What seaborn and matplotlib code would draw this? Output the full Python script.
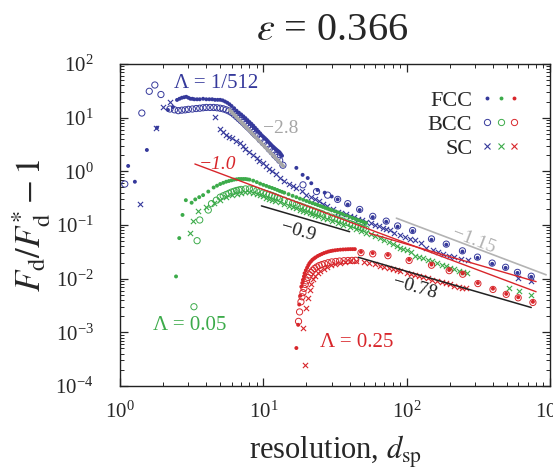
import matplotlib
matplotlib.use("Agg")
import matplotlib.pyplot as plt
import seaborn as sns
from matplotlib.lines import Line2D
from matplotlib.legend_handler import HandlerTuple

# values (resolution d_sp, Fd/Fd* - 1)

# Lambda = 1/512
blue_fcc_d = [1.14, 1.27, 1.54, 1.81, 2.16, 2.34, 2.5, 2.6, 2.7, 2.8, 2.9, 3.0, 3.1, 3.2, 3.3, 3.45, 3.6, 3.8, 4.0,
              4.2, 4.4, 4.6, 4.8, 5.0, 5.2, 5.4, 5.6, 5.8, 6.0, 6.25, 6.5, 6.75, 7.0, 7.25, 7.5, 7.75, 8.0, 8.25,
              8.5, 8.75, 9.0, 9.25, 9.5, 9.75, 10.0, 10.25, 10.5, 10.75, 11.0, 11.25, 11.5, 11.75, 12.0, 12.25,
              12.5, 12.75, 13.0, 13.25, 13.5, 17.0, 18.8, 20.4, 21.6, 23.9, 26.8, 30.0, 33.0, 38.8, 47.0, 58.0,
              72.0, 86.5, 110, 149, 189, 245, 312, 395, 490, 593, 740]
blue_fcc_y = [1.26, 0.64, 2.5, 6.5, 13.9, 15.8, 21.4, 22.5, 23.5, 24.0, 24.5, 23.5, 22.5, 22.5, 22.0, 22.0, 22.0,
              22.5, 22.0, 22.0, 22.0, 21.5, 21.5, 21.5, 21.0, 20.0, 19.0, 17.8, 16.5, 15.0, 13.5, 12.4, 11.5,
              10.6, 9.8, 9.0, 8.3, 7.7, 7.1, 6.5, 6.0, 5.5, 5.1, 4.7, 4.4, 4.15, 3.9, 3.65, 3.4, 3.2, 3.0, 2.85,
              2.7, 2.57, 2.45, 2.35, 2.25, 2.1, 1.95, 1.16, 0.86, 0.75, 0.6, 0.45, 0.40, 0.34, 0.30, 0.24, 0.19,
              0.14, 0.115, 0.093, 0.077, 0.053, 0.043, 0.032, 0.0244, 0.0189, 0.0159, 0.0128, 0.0108]

blue_bcc_d = [1.08, 1.42, 1.6, 1.75, 1.93, 2.23, 2.4, 2.55, 2.7, 2.85, 3.0, 3.2, 3.4, 3.6, 3.8, 4.0, 4.25, 4.5,
              4.75, 5.0, 5.25, 5.5, 5.75, 6.0, 6.25, 6.5, 6.75, 7.0, 7.25, 7.5, 7.75, 8.0, 8.25, 8.5, 8.75, 9.0,
              9.5, 10.0, 10.5, 11.0, 11.5, 12.0, 12.5, 13.0, 13.7, 18.9, 23.5, 28.1, 33.0, 38.8, 47.0, 58.0,
              72.0, 86.5, 110, 149, 189, 245, 312, 395, 490, 593, 740]
blue_bcc_y = [0.58, 12.2, 31.0, 40.6, 27.0, 14.5, 14.0, 13.5, 13.8, 14.0, 14.3, 14.5, 14.8, 15.0, 15.3, 15.5,
              15.5, 15.5, 15.3, 15.0, 14.6, 14.0, 13.3, 12.5, 11.5, 10.5, 9.6, 8.8, 8.1, 7.4, 6.8, 6.3, 5.8,
              5.3, 4.9, 4.6, 3.9, 3.4, 3.0, 2.6, 2.3, 2.0, 1.8, 1.6, 1.3, 0.56, 0.42, 0.36, 0.30, 0.25, 0.195,
              0.145, 0.118, 0.096, 0.079, 0.055, 0.044, 0.033, 0.0252, 0.0195, 0.0163, 0.0131, 0.0111]

blue_sc_d = [1.38, 1.78, 2.0, 2.23, 4.59, 5.0, 5.25, 5.5, 5.75, 6.0, 6.4, 6.86, 7.2, 7.5, 8.0, 8.5, 9.0, 9.4, 10.0,
             10.5, 11.0, 11.5, 12.3, 13.0, 14.0, 15.0, 16.0, 17.0, 18.5, 20.0, 21.5, 23.0, 24.5, 26.0, 28.0,
             30.6, 33.0, 35.0, 37.5, 40.0, 43.0, 46.0, 49.0, 52.4, 56.0, 60.0, 64.0, 68.0, 72.0, 76.0, 82.0,
             90.0, 97.0, 105, 114, 125, 137, 152, 165, 180, 197, 215, 240, 266, 600, 740]
blue_sc_y = [0.247, 6.4, 15.6, 19.3, 10.4, 6.2, 5.4, 4.8, 4.4, 4.1, 3.7, 3.34, 3.0, 2.6, 2.3, 2.0, 1.8, 1.58, 1.4,
             1.25, 1.12, 1.02, 0.88, 0.74, 0.66, 0.59, 0.54, 0.49, 0.43, 0.37, 0.33, 0.30, 0.275, 0.25, 0.225,
             0.195, 0.178, 0.168, 0.157, 0.148, 0.138, 0.13, 0.122, 0.116, 0.108, 0.1, 0.094, 0.088, 0.083,
             0.079, 0.072, 0.066, 0.061, 0.056, 0.052, 0.047, 0.038, 0.034, 0.032, 0.029, 0.027, 0.025, 0.0235,
             0.0224, 0.0105, 0.0089]

# Lambda = 0.05
green_fcc_d = [2.46, 2.59, 2.73, 2.88, 3.16, 3.35, 3.57, 3.8, 4.13, 4.5, 4.75, 5.0, 5.25, 5.5, 5.75, 6.0, 6.25,
               6.5, 6.75, 7.0, 7.25, 7.5, 7.75, 8.0, 8.5, 9.0, 9.5, 10, 10.5, 11, 11.5, 12, 12.5, 13, 13.5, 14, 15,
               16, 17, 18, 19, 20, 21, 22, 23, 24, 25, 26, 27, 28, 29, 30, 31.5, 33, 34.5, 36, 38, 40, 42, 44, 46,
               48, 50, 52]
green_fcc_y = [0.011, 0.057, 0.154, 0.29, 0.26, 0.3, 0.33, 0.36, 0.42, 0.5, 0.54, 0.58, 0.61, 0.64, 0.66, 0.68,
               0.70, 0.71, 0.72, 0.72, 0.72, 0.72, 0.71, 0.70, 0.67, 0.63, 0.59, 0.56, 0.535, 0.51, 0.49, 0.47,
               0.45, 0.43, 0.415, 0.40, 0.375, 0.35, 0.33, 0.31, 0.295, 0.28, 0.267, 0.255, 0.245, 0.235, 0.226,
               0.217, 0.209, 0.202, 0.195, 0.189, 0.18, 0.172, 0.165, 0.158, 0.15, 0.142, 0.135, 0.129, 0.123,
               0.118, 0.113, 0.109]

green_bcc_d = [3.28, 3.45, 3.6, 4.13, 4.35, 4.7, 5.0, 5.25, 5.5, 5.75, 6.0, 6.25, 6.5, 6.75, 7.0, 7.5, 8.0, 8.5,
               9.0, 9.5, 10, 10.5, 11, 11.5, 12, 12.5, 13, 14, 15, 16, 17, 18, 19, 20, 21, 22, 23, 24, 25, 26, 28,
               30, 31.5, 33, 34.5, 36, 38, 40, 42, 44, 46, 48, 50, 52]
green_bcc_y = [0.003, 0.051, 0.124, 0.19, 0.25, 0.29, 0.33, 0.35, 0.37, 0.39, 0.41, 0.425, 0.44, 0.45, 0.46, 0.47,
               0.47, 0.46, 0.44, 0.42, 0.40, 0.385, 0.37, 0.355, 0.34, 0.325, 0.31, 0.29, 0.27, 0.255, 0.24, 0.228,
               0.216, 0.205, 0.196, 0.187, 0.179, 0.172, 0.166, 0.16, 0.149, 0.14, 0.134, 0.128, 0.123, 0.118,
               0.112, 0.107, 0.102, 0.098, 0.094, 0.09, 0.087, 0.084]

green_sc_d = [3.07, 3.24, 3.51, 4.0, 4.5, 5.0, 5.5, 6.0, 6.5, 7.0, 7.5, 8.0, 8.5, 9.0, 9.5, 10, 10.5, 11, 11.5, 12,
              13, 14, 15, 16, 17, 18, 19, 20, 21, 22, 23, 24, 26, 28, 30, 33, 36, 40, 44, 48, 52, 56, 60, 65, 70,
              75, 80, 85, 90, 95, 100, 107, 115, 122, 130, 140, 150, 162, 175, 187, 200, 215, 230, 247, 265,
              520, 612, 740]
green_sc_y = [0.072, 0.118, 0.18, 0.22, 0.26, 0.29, 0.33, 0.36, 0.38, 0.40, 0.41, 0.41, 0.40, 0.38, 0.36, 0.34,
              0.325, 0.31, 0.297, 0.285, 0.265, 0.245, 0.23, 0.215, 0.203, 0.193, 0.184, 0.175, 0.167, 0.16,
              0.153, 0.147, 0.137, 0.128, 0.12, 0.11, 0.101, 0.092, 0.084, 0.078, 0.072, 0.067, 0.062, 0.057,
              0.052, 0.048, 0.045, 0.041, 0.038, 0.036, 0.034, 0.031, 0.027, 0.0255, 0.024, 0.0225, 0.021,
              0.0193, 0.018, 0.017, 0.016, 0.015, 0.014, 0.0132, 0.0125, 0.0067, 0.0058, 0.005]

# Lambda = 0.25
red_fcc_d = [17.0, 17.5, 17.8, 18.1, 18.4, 18.7, 18.9, 19.2, 19.4, 19.8, 20.2, 20.6, 21.0, 21.5, 22.0, 22.6, 23.2,
             24.0, 24.8, 25.6, 26.5, 27.5, 28.5, 29.5, 30.5, 31.7, 33.0, 34.5, 36.0, 37.5, 39.0, 40.5, 42.0,
             43.5, 48.0, 58.0, 74.0, 104, 149, 198, 246, 314, 400, 495, 600, 760]
red_fcc_y = [0.00051, 0.00138, 0.0033, 0.0048, 0.0071, 0.0083, 0.0095, 0.011, 0.0126, 0.0143, 0.016, 0.0178,
             0.0195, 0.021, 0.0225, 0.0238, 0.025, 0.0265, 0.0277, 0.0288, 0.030, 0.031, 0.032, 0.0327, 0.0333,
             0.0338, 0.0343, 0.0347, 0.035, 0.0352, 0.0354, 0.0355, 0.0355, 0.0355, 0.0315, 0.030, 0.0277, 0.0225,
             0.0183, 0.0145, 0.0125, 0.0083, 0.0065, 0.0052, 0.0045, 0.0037]

red_bcc_d = [17.6, 17.9, 18.3, 18.6, 18.9, 19.2, 19.6, 20.0, 20.5, 21.0, 21.5, 22.1, 22.8, 23.6, 24.5, 25.6, 26.8,
             28.3, 30.0, 32.0, 34.0, 36.5, 39.0, 41.5, 44.0, 48.0, 58.0, 74.0, 104, 149, 198, 246, 314, 400, 495,
             600, 760]
red_bcc_y = [0.0016, 0.0024, 0.0037, 0.0046, 0.0055, 0.0066, 0.0078, 0.0091, 0.0105, 0.0118, 0.013, 0.0143,
             0.0155, 0.0165, 0.0175, 0.0183, 0.019, 0.0198, 0.0205, 0.0209, 0.0213, 0.0216, 0.0218, 0.0219, 0.022,
             0.0305, 0.029, 0.0268, 0.0218, 0.0178, 0.0141, 0.0121, 0.0081, 0.0063, 0.0051, 0.0044, 0.0036]

red_sc_d = [18.9, 19.4, 20.0, 20.5, 21.0, 21.6, 22.3, 23.0, 24.0, 25.0, 26.3, 27.8, 29.5, 31.5, 34.0, 37.0, 40.0,
            44.0, 50.0, 55.0, 60.0, 65.0, 70.0, 75.0, 80.0, 85.0, 90.0, 100, 107, 115, 122, 130, 140, 150, 162,
            175, 187, 200, 215, 230, 245, 261]
red_sc_y = [0.0012, 0.00025, 0.0028, 0.0043, 0.0062, 0.0081, 0.0098, 0.0113, 0.0128, 0.0141, 0.0153, 0.0165,
            0.0177, 0.0188, 0.0197, 0.0204, 0.021, 0.0215, 0.0205, 0.0195, 0.0185, 0.0175, 0.0165, 0.0158,
            0.0152, 0.0146, 0.014, 0.013, 0.0124, 0.0118, 0.0112, 0.0107, 0.0101, 0.0096, 0.0091, 0.0086,
            0.0082, 0.0078, 0.0074, 0.0071, 0.0068, 0.0066]

# guide lines (end points)
guide_lines = [
    ([5.8, 13.8], [14.0, 1.25], "#a6a6a6", 2.6),
    ([3.33, 800], [1.37, 0.0057], "#d8262b", 1.0),
    ([55.0, 800], [0.07, 0.0088], "#d8262b", 1.0),
    ([9.7, 40.0], [0.227, 0.075], "#222222", 1.1),
    ([84.8, 940], [0.134, 0.0118], "#b3b3b3", 1.2),
    ([46.0, 740], [0.025, 0.0029], "#222222", 1.1),
]

BLUE = "#35399b"
GREEN = "#3cab4a"
RED = "#d8262b"

sns.set_style("ticks")
plt.rcParams["font.family"] = ["Liberation Serif", "DejaVu Serif"]
plt.rcParams["mathtext.fontset"] = "stix"

fig = plt.figure(figsize=(5.53, 4.69), dpi=100)
ax = fig.add_axes([120 / 553, 1 - 386 / 469, 430 / 553, 322 / 469])


def draw(d, y, color, lattice):
    if lattice == "FCC":
        sns.scatterplot(x=d, y=y, ax=ax, marker="o", s=8, color=color, edgecolor="none", zorder=3)
    elif lattice == "BCC":
        sns.scatterplot(x=d, y=y, ax=ax, marker="o", s=20, facecolors="none", edgecolor=color,
                        linewidth=0.7, zorder=3)
    else:
        sns.scatterplot(x=d, y=y, ax=ax, marker="x", s=14, color=color, linewidth=0.8, zorder=3)


series = [
    (BLUE, blue_sc_d, blue_sc_y, "SC"), (BLUE, blue_bcc_d, blue_bcc_y, "BCC"), (BLUE, blue_fcc_d, blue_fcc_y, "FCC"),
    (GREEN, green_sc_d, green_sc_y, "SC"), (GREEN, green_bcc_d, green_bcc_y, "BCC"),
    (GREEN, green_fcc_d, green_fcc_y, "FCC"),
    (RED, red_sc_d, red_sc_y, "SC"), (RED, red_bcc_d, red_bcc_y, "BCC"), (RED, red_fcc_d, red_fcc_y, "FCC"),
]
for color, d, y, lat in series:
    draw(d, y, color, lat)

for lx, ly, c, lw in guide_lines:
    sns.lineplot(x=lx, y=ly, ax=ax, color=c, linewidth=lw, zorder=4)

ax.set_xscale("log")
ax.set_yscale("log")
ax.set_xlim(1, 1000)
ax.set_ylim(1e-4, 1e2)

ax.tick_params(which="both", direction="in", top=True, right=True, labelsize=15)
ax.tick_params(axis="x", pad=11)
ax.tick_params(axis="y", pad=19)
ax.tick_params(which="major", length=6, width=0.9)
ax.tick_params(which="minor", length=3, width=0.7)
for s in ax.spines.values():
    s.set_linewidth(1.0)
    s.set_color("#222222")

ax.set_xlabel("resolution, $d_\\mathrm{sp}$", fontsize=22, labelpad=8)
ax.set_ylabel("$F_\\mathrm{d}/F_\\mathrm{d}^{*}-1$", fontsize=25, labelpad=2)
fig.text(332 / 553, 1 - 30 / 469, "$\\varepsilon$ = 0.366", fontsize=29, ha="center", va="center")

# annotations
ax.text(4.67, 44, "\u039b = 1/512", color=BLUE, fontsize=15, ha="center", va="center")
ax.text(3.07, 1.32e-3, "\u039b = 0.05", color=GREEN, fontsize=15, ha="center", va="center")
ax.text(44.9, 6.4e-4, "\u039b = 0.25", color=RED, fontsize=15, ha="center", va="center")
ax.text(13.2, 6.2, "\u22122.8", color="#a6a6a6", fontsize=14, ha="center", va="center")
ax.text(4.82, 1.32, "\u22121.0", color=RED, fontsize=14, ha="center", va="center", style="italic")
ax.text(17.4, 0.0745, "\u22120.9", color="#222222", fontsize=14, ha="center", va="center", rotation=-16)
ax.text(293, 0.0506, "\u22121.15", color="#b3b3b3", fontsize=14, ha="center", va="center", rotation=-21)
ax.text(114, 0.0067, "\u22120.78", color="#222222", fontsize=14, ha="center", va="center", rotation=-16)

# legend: label followed by one marker per Lambda
handles = []
for lat in ["FCC", "BCC", "SC"]:
    group = []
    for c in [BLUE, GREEN, RED]:
        if lat == "FCC":
            group.append(Line2D([], [], ls="none", marker="o", ms=2.8, color=c, mec="none"))
        elif lat == "BCC":
            group.append(Line2D([], [], ls="none", marker="o", ms=4.5, mfc="none", mec=c, mew=0.7))
        else:
            group.append(Line2D([], [], ls="none", marker="x", ms=4, color=c, mew=0.8))
    handles.append(tuple(group))
ax.legend(handles, ["FCC", "BCC", "SC"], handler_map={tuple: HandlerTuple(ndivide=None, pad=0.27)},
          markerfirst=False, frameon=False, fontsize=16, loc="upper right",
          bbox_to_anchor=(0.972, 0.98), handlelength=1.55, handletextpad=0.5, labelspacing=0.15)

fig.savefig("out.png", dpi=100)
